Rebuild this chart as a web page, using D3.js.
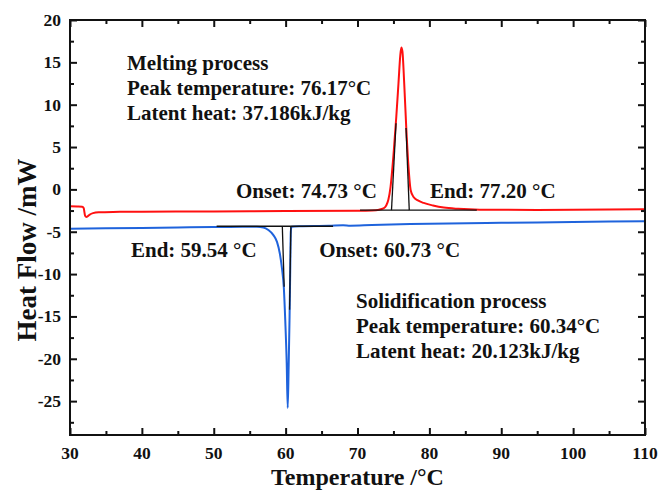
<!DOCTYPE html>
<html>
<head>
<meta charset="utf-8">
<script src="https://cdn.jsdelivr.net/npm/d3@7"></script>
<style>
  html, body { margin: 0; padding: 0; background: #fff; }
  svg { display: block; }
  text { font-family: "Liberation Serif", "Times New Roman", serif; font-weight: bold; fill: #111; }
</style>
</head>
<body>
<svg id="chart" width="671" height="491"></svg>
<script>
// DSC heating curve (melting), [temperature °C, heat flow mW]
const meltingCurve = [
  [30, -2.0], [31.0, -2.02], [31.7, -2.05], [31.9, -2.2], [32.1, -3.1], [32.3, -3.25],
  [32.7, -3.0], [33.2, -2.8], [34, -2.7], [36, -2.66], [40, -2.64], [50, -2.6],
  [60, -2.56], [70, -2.52], [72, -2.48], [73, -2.4], [73.6, -2.25], [74.0, -1.9],
  [74.3, -1.2], [74.6, 0.3], [75.0, 4.0], [75.4, 8.6], [75.7, 12.5], [75.95, 15.8],
  [76.1, 16.75], [76.25, 16.3], [76.5, 12.5], [76.8, 7.0], [77.1, 2.6], [77.4, -0.1],
  [77.8, -0.9], [78.4, -1.3], [79.2, -1.6], [80.5, -1.9], [82, -2.15], [84, -2.3],
  [87, -2.4], [95, -2.42], [105, -2.38], [110, -2.35]
];

// DSC cooling curve (solidification), [temperature °C, heat flow mW]
const solidificationCurve = [
  [30, -4.65], [35, -4.6], [40, -4.55], [45, -4.5], [50, -4.45], [54, -4.4],
  [56, -4.42], [56.9, -4.5], [57.6, -4.8], [58.3, -5.4], [58.8, -6.2], [59.2, -7.6],
  [59.5, -9.4], [59.75, -11.6], [59.95, -15.5], [60.15, -20.5], [60.29, -25.8],
  [60.42, -21.0], [60.55, -15.0], [60.65, -9.0], [60.72, -5.0], [60.82, -4.4],
  [62, -4.35], [66, -4.3], [68, -4.22], [69, -4.28], [72, -4.2], [76, -4.12],
  [80, -4.05], [90, -3.95], [100, -3.85], [110, -3.75]
];

// Baselines and onset/end tangents, [[T0, v0], [T1, v1]]
const meltingBaseline = [[70.35, -2.45], [86.6, -2.45]];
const meltingTangents = [
  [[74.73, -2.45], [75.36, 7.8]],
  [[77.20, -2.45], [76.75, 7.25]]
];
const solidBaseline = [[50.4, -4.35], [66.6, -4.35]];
const solidTangents = [
  [[59.54, -4.35], [59.8, -11.5]],
  [[60.73, -4.35], [60.55, -14.2]]
];

// Text blocks
const meltingNotes = ["Melting process", "Peak temperature: 76.17\u00B0C", "Latent heat: 37.186kJ/kg"];
const solidNotes = ["Solidification process", "Peak temperature: 60.34\u00B0C", "Latent heat: 20.123kJ/kg"];
// Event labels: [text, temperature, heat flow, anchor]
const eventLabels = [
  ["Onset: 74.73 \u00B0C", 53.1, -1.0, "start"],
  ["End: 77.20 \u00B0C", 80.07, -1.0, "start"],
  ["End: 59.54 \u00B0C", 55.97, -8.0, "end"],
  ["Onset: 60.73 \u00B0C", 64.68, -8.0, "start"]
];

const xTicks = [30, 40, 50, 60, 70, 80, 90, 100, 110];
const yTicks = [20, 15, 10, 5, 0, -5, -10, -15, -20, -25];
const xMinor = [35, 45, 55, 65, 75, 85, 95, 105];
const yMinor = [17.5, 12.5, 7.5, 2.5, -2.5, -7.5, -12.5, -17.5, -22.5, -27.5];

const margin = { left: 70, top: 20, right: 26, bottom: 56 };
const W = 671, H = 491;
const innerW = W - margin.left - margin.right;
const innerH = H - margin.top - margin.bottom;

const svg = d3.select("#chart");
const g = svg.append("g").attr("transform", `translate(${margin.left},${margin.top})`);

const x = d3.scaleLinear().domain([30, 110]).range([0, innerW]);
const y = d3.scaleLinear().domain([-29, 20]).range([innerH, 0]);

const line = d3.line().x(d => x(d[0])).y(d => y(d[1])).curve(d3.curveMonotoneX);
const straight = d3.line().x(d => x(d[0])).y(d => y(d[1]));

// curves
g.append("path").datum(solidificationCurve).attr("d", line)
  .attr("fill", "none").attr("stroke", "#1f63dc").attr("stroke-width", 2);
g.append("path").datum(meltingCurve).attr("d", line)
  .attr("fill", "none").attr("stroke", "#ff1010").attr("stroke-width", 2);

// baselines and tangents
[meltingBaseline, solidBaseline, ...meltingTangents, ...solidTangents].forEach(seg => {
  g.append("path").datum(seg).attr("d", straight)
    .attr("fill", "none").attr("stroke", "#111").attr("stroke-width", 1.3);
});

// inward ticks on all four sides (major and minor)
const axisDefs = [
  [() => d3.axisBottom(x), `translate(0,${innerH})`, xTicks, xMinor],
  [() => d3.axisTop(x), "translate(0,0)", xTicks, xMinor],
  [() => d3.axisLeft(y), "translate(0,0)", yTicks, yMinor],
  [() => d3.axisRight(y), `translate(${innerW},0)`, yTicks, yMinor]
];
axisDefs.forEach(([make, tr, major, minor]) => {
  [[major, 7], [minor, 4]].forEach(([vals, len]) => {
    const a = g.append("g").attr("transform", tr)
      .call(make().tickValues(vals).tickSize(-len).tickSizeOuter(0).tickFormat(""));
    a.select(".domain").remove();
    a.selectAll("line").attr("stroke", "#111").attr("stroke-width", 2);
  });
});

// frame
g.append("rect").attr("width", innerW).attr("height", innerH)
  .attr("fill", "none").attr("stroke", "#111").attr("stroke-width", 2);

// tick labels
g.selectAll(".xl").data(xTicks).join("text")
  .attr("x", d => x(d)).attr("y", innerH + 24)
  .attr("text-anchor", "middle").attr("font-size", 17.5).text(d => d);
g.selectAll(".yl").data(yTicks).join("text")
  .attr("x", -9).attr("y", d => y(d) + 6)
  .attr("text-anchor", "end").attr("font-size", 17.5).text(d => d);

// axis titles
g.append("text").attr("x", innerW / 2).attr("y", innerH + 50)
  .attr("text-anchor", "middle").attr("font-size", 24).text("Temperature /\u00B0C");
g.append("text").attr("transform", `translate(-34,${250 - margin.top}) rotate(-90)`)
  .attr("text-anchor", "middle").attr("font-size", 27).text("Heat Flow /mW");

// annotations
meltingNotes.forEach((t, i) => {
  g.append("text").attr("x", 127 - margin.left).attr("y", 70 - margin.top + i * 25)
    .attr("font-size", 21).text(t);
});
solidNotes.forEach((t, i) => {
  g.append("text").attr("x", 356 - margin.left).attr("y", 308 - margin.top + i * 25)
    .attr("font-size", 21).text(t);
});
eventLabels.forEach(([t, tx, ty, anchor]) => {
  g.append("text").attr("x", x(tx)).attr("y", y(ty))
    .attr("text-anchor", anchor).attr("font-size", 21).text(t);
});
</script>
</body>
</html>
